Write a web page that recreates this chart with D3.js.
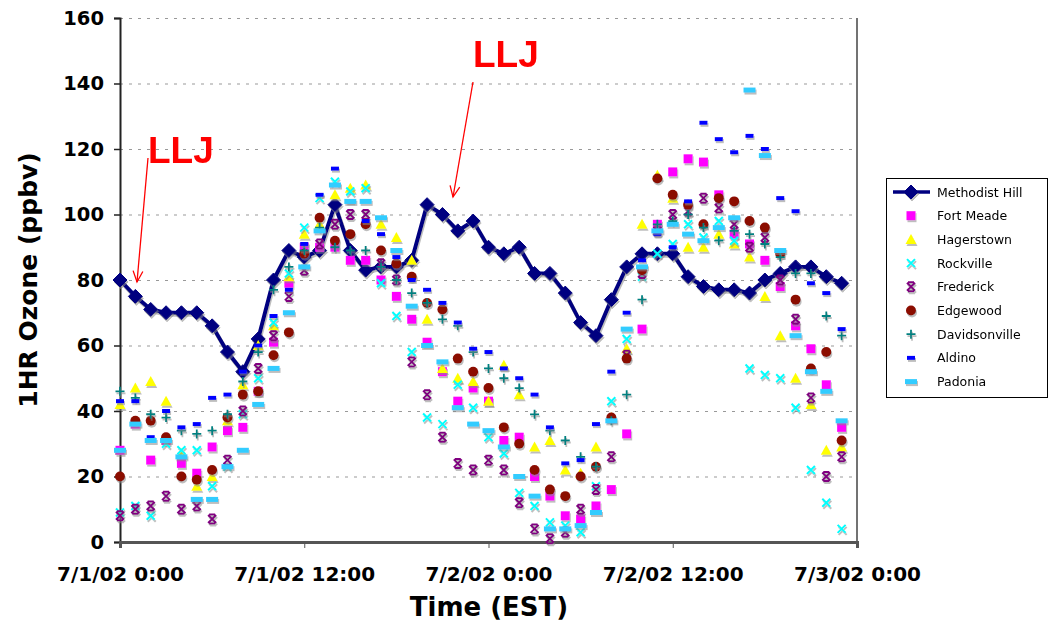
<!DOCTYPE html>
<html><head><meta charset="utf-8">
<script src="https://cdn.jsdelivr.net/npm/d3@7"></script>
<style>body{margin:0;background:#fff}</style>
</head><body><svg id="c" width="1052" height="624"></svg>
<script>
// ---- data (hourly values, 7/1/02 0:00 .. 7/2/02 23:00) ----
const tickHours = [0, 12, 24, 36, 48];
const tickLabels = ["7/1/02 0:00", "7/1/02 12:00", "7/2/02 0:00", "7/2/02 12:00", "7/3/02 0:00"];
const yTicks = [0, 20, 40, 60, 80, 100, 120, 140, 160];

const methodistHill = [80,75,71,70,70,70,66,58,52,62,80,89,87,89,103,89,83,84,84,86,103,100,95,98,90,88,90,82,82,76,67,63,74,84,88,88,88,81,78,77,77,76,80,82,84,84,81,79];
const fortMeade    = [28,36,25,31,24,21,29,34,35,46,61,79,90,90,90,86,86,80,75,68,61,52,43,47,43,31,32,20,14,8,7,11,16,33,65,97,113,117,116,106,94,91,86,78,66,59,48,35];
const hagerstown   = [42,47,49,43,27,17,20,37,48,60,66,81,94,97,106,108,109,97,93,86,68,53,50,49,43,54,45,29,31,22,21,29,38,59,97,112,105,90,90,94,91,87,75,63,50,42,28,29];
const rockville    = [9,11,8,30,28,28,17,23,39,50,67,82,96,105,110,107,108,79,69,58,38,36,48,41,32,27,15,11,6,5,3,17,43,62,81,88,91,97,93,98,92,53,51,50,41,22,12,4];
const frederick    = [8,10,11,14,10,11,7,25,40,53,63,75,83,91,97,100,100,85,80,55,45,32,24,22,25,22,12,4,1,3,10,16,26,57,82,95,100,101,105,102,97,90,93,80,68,44,20,26];
const edgewood     = [20,37,37,32,20,19,22,38,45,46,57,64,88,99,92,94,97,89,85,81,73,71,56,52,47,35,30,22,16,14,20,23,38,56,83,111,106,103,97,105,104,98,96,88,74,53,58,31];
const davidsonville= [46,44,39,38,34,33,34,39,49,58,77,84,89,96,90,89,89,84,80,76,73,68,66,58,53,50,47,39,34,31,26,23,37,45,74,97,98,100,96,92,95,94,91,87,82,82,69,63];
const aldino       = [43,43,32,40,35,36,44,45,52,60,69,77,91,106,114,104,98,94,87,80,77,73,67,59,58,53,50,45,35,24,25,36,52,70,86,94,90,104,128,123,119,124,120,105,101,79,76,65];
const padonia      = [28,36,31,31,26,13,13,23,28,42,53,70,84,95,109,104,104,99,89,72,60,55,41,36,34,29,20,14,4,4,5,9,37,65,84,95,97,94,92,96,99,138,118,89,63,52,46,37];

const seriesNames = ["Methodist Hill","Fort Meade","Hagerstown","Rockville","Frederick","Edgewood","Davidsonville","Aldino","Padonia"];
const seriesColors = ["#000080","#FF00FF","#FFFF00","#00FFFF","#800080","#8B0A00","#008080","#0000FF","#33CCFF"];
const seriesKinds = ["diamond","square","triangle","x","star","circle","plus","dash","wdash"];
const seriesData = [methodistHill,fortMeade,hagerstown,rockville,frederick,edgewood,davidsonville,aldino,padonia];

// ---- chart ----
const svg = d3.select("#c");
const L = 120, R = 857, T = 18, B = 542;
const x = d3.scaleLinear().domain([0, 48]).range([L, R]);
const y = d3.scaleLinear().domain([0, 160]).range([B, T]);

const defs = svg.append("defs");
const f = defs.append("filter").attr("id","sh").attr("x","-50%").attr("y","-50%").attr("width","200%").attr("height","200%");
f.append("feDropShadow").attr("dx",1).attr("dy",2).attr("stdDeviation",0.6).attr("flood-color","#888").attr("flood-opacity",0.55);

// gridlines
const grid = svg.append("g").attr("transform",`translate(${L},0)`)
  .call(d3.axisLeft(y).tickValues(yTicks.filter(v=>v>0)).tickSize(-(R-L)).tickFormat(""));
grid.select(".domain").remove();
grid.selectAll("line").attr("stroke","#999").attr("stroke-dasharray","3,6").attr("stroke-width",1);

// right border
svg.append("line").attr("x1",R).attr("x2",R).attr("y1",T).attr("y2",B+3).attr("stroke","#444").attr("stroke-width",1.5);

// y axis
const ya = svg.append("g").attr("transform",`translate(${L},0)`)
  .call(d3.axisLeft(y).tickValues(yTicks).tickSize(6).tickPadding(10));
ya.select(".domain").attr("stroke","#222").attr("stroke-width",2);
ya.selectAll("line").attr("stroke","#222").attr("stroke-width",1.5);
ya.selectAll("text").attr("font-family","DejaVu Sans").attr("font-weight","bold").attr("font-size",19.5).attr("fill","#000");

// x axis
const xa = svg.append("g").attr("transform",`translate(0,${B})`)
  .call(d3.axisBottom(x).tickValues(tickHours).tickSize(6).tickPadding(19).tickFormat((d,i)=>tickLabels[i]));
xa.select(".domain").attr("stroke","#555").attr("stroke-width",3);
xa.selectAll("line").attr("stroke","#555").attr("stroke-width",1);
xa.selectAll("text").attr("font-family","DejaVu Sans").attr("font-weight","bold").attr("font-size",20).attr("fill","#000");

// axis titles
svg.append("text").attr("x",489).attr("y",616).attr("text-anchor","middle")
  .attr("font-family","DejaVu Sans").attr("font-weight","bold").attr("font-size",26).text("Time (EST)");
svg.append("text").attr("transform","translate(37,280) rotate(-90)").attr("text-anchor","middle")
  .attr("font-family","DejaVu Sans").attr("font-weight","bold").attr("font-size",25).text("1HR Ozone (ppbv)");

// marker drawing
function drawMarker(g, kind, color) {
  switch (kind) {
    case "diamond": g.append("path").attr("d","M0,-7L7,0L0,7L-7,0Z").attr("fill",color).attr("stroke",color).attr("stroke-width",1); break;
    case "square": g.append("rect").attr("x",-4.5).attr("y",-4.5).attr("width",9).attr("height",9).attr("fill",color); break;
    case "triangle": g.append("path").attr("d","M0,-5.5L5.5,4.5L-5.5,4.5Z").attr("fill",color); break;
    case "x": g.append("path").attr("d","M-4,-4L4,4M4,-4L-4,4").attr("stroke",color).attr("stroke-width",2).attr("fill","none"); break;
    case "star": g.append("path").attr("d","M-4,-4L4,4M4,-4L-4,4M-3,-4.5L3,-4.5M-3,4.5L3,4.5").attr("stroke",color).attr("stroke-width",2).attr("fill","none"); break;
    case "circle": g.append("circle").attr("r",5).attr("fill",color); break;
    case "plus": g.append("path").attr("d","M-4.5,0L4.5,0M0,-4.5L0,4.5").attr("stroke",color).attr("stroke-width",1.8).attr("fill","none"); break;
    case "dash": g.append("rect").attr("x",-4).attr("y",-2).attr("width",8).attr("height",4).attr("fill",color); break;
    case "wdash": g.append("rect").attr("x",-6).attr("y",-2.5).attr("width",12).attr("height",5).attr("fill",color); break;
  }
}

// Methodist Hill line
const plot = svg.append("g");
plot.append("path").datum(methodistHill)
  .attr("d", d3.line().x((d,i)=>x(i)).y(d=>y(d)))
  .attr("fill","none").attr("stroke","#000080").attr("stroke-width",4).attr("filter","url(#sh)");

seriesData.forEach((arr, si) => {
  const g = plot.append("g").attr("filter","url(#sh)");
  g.selectAll("g.m").data(arr).join("g").attr("class","m")
    .attr("transform",(d,i)=>`translate(${x(i)},${y(d)})`)
    .each(function(){ drawMarker(d3.select(this), seriesKinds[si], seriesColors[si]); });
});

// annotations
const red = "#FF0000";
svg.append("text").attr("x",148).attr("y",163).attr("font-family","Liberation Sans, Arial").attr("font-weight","bold")
  .attr("font-size",37).attr("fill",red).text("LLJ");
svg.append("text").attr("x",473).attr("y",67).attr("font-family","Liberation Sans, Arial").attr("font-weight","bold")
  .attr("font-size",37).attr("fill",red).text("LLJ");
function arrow(x1,y1,x2,y2){
  const a = Math.atan2(y2-y1,x2-x1), h=12, w=0.42;
  svg.append("line").attr("x1",x1).attr("y1",y1).attr("x2",x2).attr("y2",y2).attr("stroke",red).attr("stroke-width",1.3);
  svg.append("path").attr("d",`M${x2-h*Math.cos(a-w)},${y2-h*Math.sin(a-w)}L${x2},${y2}L${x2-h*Math.cos(a+w)},${y2-h*Math.sin(a+w)}`)
    .attr("stroke",red).attr("stroke-width",1.3).attr("fill","none");
}
arrow(148,158,137,282);
arrow(473,82,453,197);

// legend
const lg = svg.append("g");
lg.append("rect").attr("x",886.5).attr("y",178.5).attr("width",161).attr("height",219).attr("fill","#fff").attr("stroke","#000").attr("stroke-width",1);
seriesNames.forEach((name, i) => {
  const yy = 192 + i*23.7;
  if (i === 0) lg.append("line").attr("x1",893).attr("x2",930).attr("y1",yy).attr("y2",yy).attr("stroke","#000080").attr("stroke-width",3.5);
  const g = lg.append("g").attr("transform",`translate(911,${yy})`).attr("filter","url(#sh)");
  drawMarker(g, seriesKinds[i], seriesColors[i]);
  lg.append("text").attr("x",937).attr("y",yy+4.5).attr("font-family","DejaVu Sans").attr("font-size",12.5).attr("fill","#000").text(name);
});
</script></body></html>
